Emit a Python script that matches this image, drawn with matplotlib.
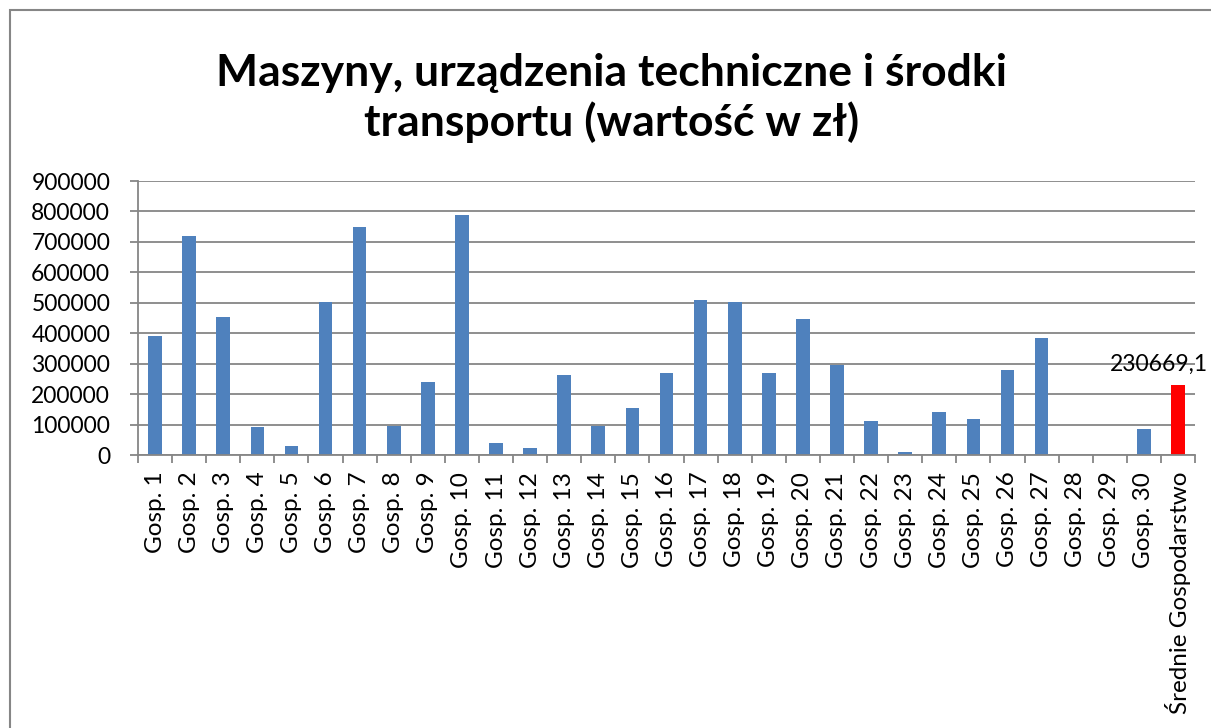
import matplotlib.pyplot as plt
from matplotlib.patches import Rectangle
from matplotlib.ticker import FixedLocator

plt.rcParams['font.family'] = ['Lato', 'DejaVu Sans']

categories = [f'Gosp. {i}' for i in range(1, 31)] + ['Średnie Gospodarstwo']
values = [392000, 719000, 453000, 93000, 30000, 504000, 750000, 96000, 240000, 787000,
          40000, 22000, 262000, 94000, 154000, 270000, 508000, 501000, 270000, 446000,
          294000, 111000, 11000, 142000, 118000, 278000, 385000, 0, 0, 86000,
          230669.1]
colors = ['#4F81BD'] * 30 + ['#FF0000']
y_ticks = list(range(0, 900001, 100000))
title = 'Maszyny, urządzenia techniczne i środki\ntransportu (wartość w zł)'

W, H = 1211, 728
fig = plt.figure(figsize=(W / 100, H / 100), dpi=100)

# chart frame
fig.patches.append(Rectangle((10 / W, -0.05), 1.1, 0.05 + (1 - 10 / H),
                             transform=fig.transFigure, fill=False,
                             edgecolor='#868686', linewidth=1.5))

ax = fig.add_axes([138 / W, 1 - 455 / H, (1195 - 138) / W, (455 - 181) / H])

x = list(range(len(categories)))
bars = ax.bar(x, values, width=0.4, color=colors, zorder=3)

ax.set_xlim(-0.5, len(categories) - 0.5)
ax.set_ylim(0, 900000)
ax.set_yticks(y_ticks)
ax.set_yticklabels([str(v) for v in y_ticks], fontsize=16.5)
ax.grid(axis='y', color='#868686', linewidth=1.3, zorder=0)

ax.set_xticks(x)
ax.set_xticklabels(categories, rotation=90, fontsize=17.5, va='top', ha='center')
ax.xaxis.set_minor_locator(FixedLocator([i - 0.5 for i in range(len(categories) + 1)]))
ax.tick_params(axis='x', which='major', length=0, pad=12)
ax.tick_params(axis='x', which='minor', length=5.5, color='#868686', width=1.3)
ax.tick_params(axis='y', length=6, color='#868686', width=1.3, pad=14)

for side in ('top', 'right'):
    ax.spines[side].set_visible(False)
for side in ('left', 'bottom'):
    ax.spines[side].set_color('#868686')
    ax.spines[side].set_linewidth(1.3)
    ax.spines[side].set_zorder(4)

ax.annotate('230669,1', xy=(x[-1], values[-1]), xytext=(-14, 7),
            textcoords='offset points', ha='center', va='bottom', fontsize=16.5)

fig.text(0.505, 0.865, title, ha='center', va='center', fontsize=32,
         fontweight='bold', linespacing=1.25)

fig.savefig('out.png', dpi=100)
